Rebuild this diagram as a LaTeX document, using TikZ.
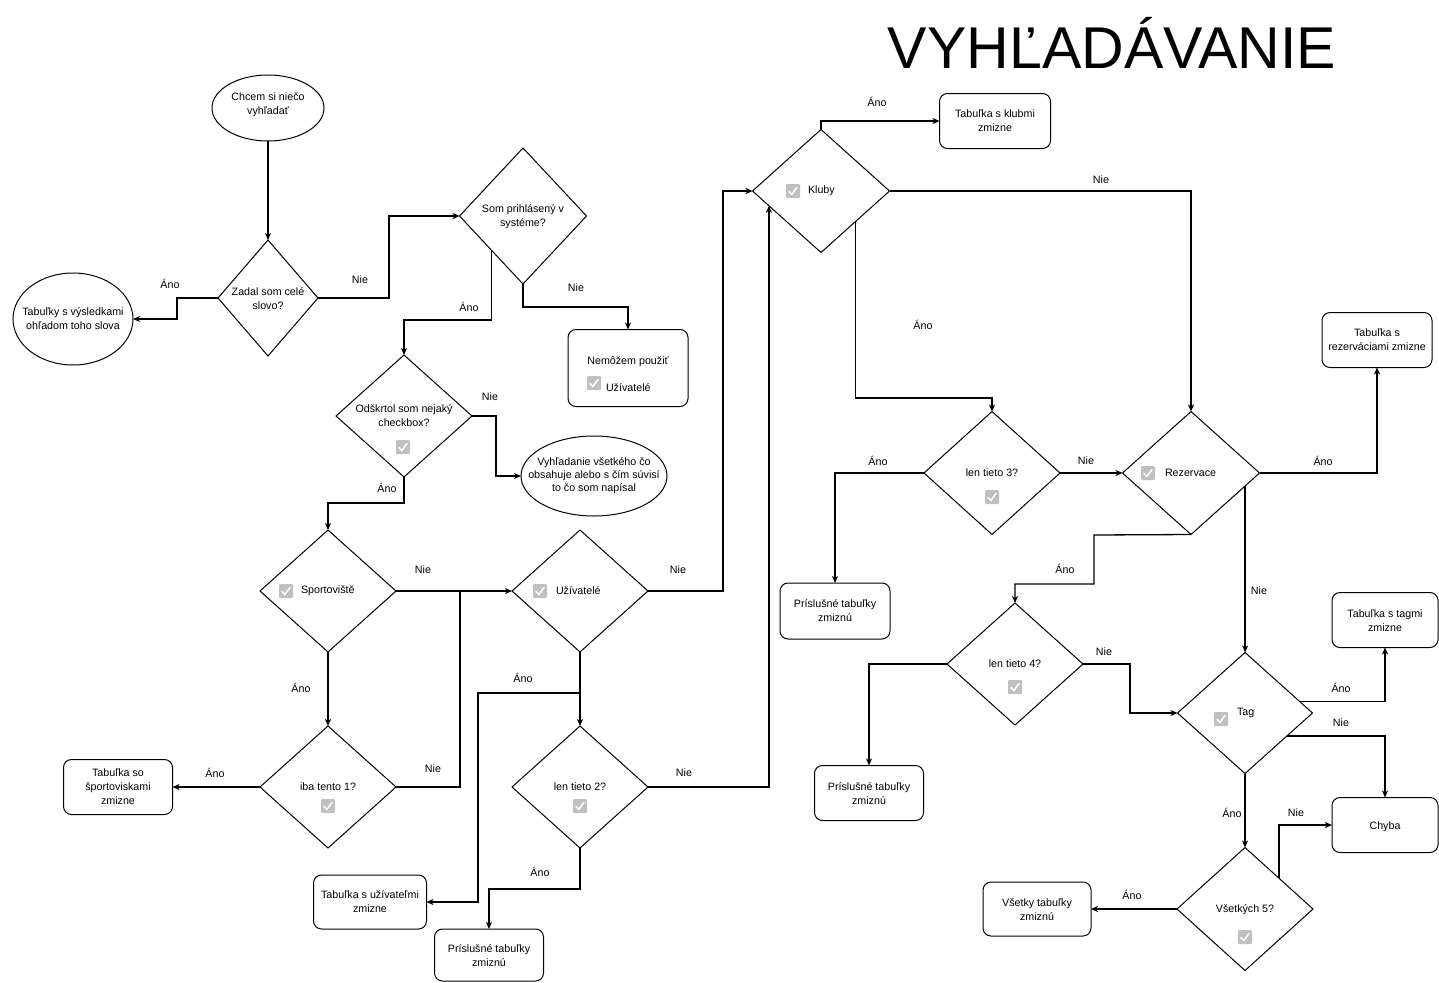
\documentclass[tikz,border=0pt]{standalone}
\usepackage{fontspec}
\setmainfont{Liberation Sans}
\usetikzlibrary{shapes.geometric,arrows.meta,calc}
\definecolor{ckgray}{RGB}{192,192,192}
\begin{document}
\begin{tikzpicture}[x=1pt,y=-1pt,
  every node/.style={inner sep=0pt, outer sep=0pt},
  base/.style={draw=black, line width=1pt},
  decision/.style={base, diamond},
  stepbox/.style={base, rectangle, rounded corners=8pt},
  oval/.style={base, ellipse},
  txt/.style={align=center, font=\fontsize{10.7}{14}\selectfont},
  lbl/.style={font=\fontsize{10.7}{14}\selectfont},
  arr/.style={line width=1.3pt, -{Stealth[length=7pt,width=6pt,inset=2pt]}},
  link/.style={line width=1.3pt},
  ckbox/.pic={
    \fill[ckgray, rounded corners=1.2pt] (-7,-7) rectangle (7,7);
    \draw[white, line width=1.5pt, line cap=round, line join=round]
      (-4,0.5) -- (-1.2,3.5) -- (4,-3.5);
  }
]
\fill[white] (0,0) rectangle (1439,982);
\useasboundingbox (0,0) rectangle (1439,982);

% title
\node[font=\fontsize{59}{60}\selectfont] (title) at (1112,43) {VYHĽADÁVANIE};

% ---- shapes ----
\node[oval, minimum width=112pt, minimum height=66pt] (start) at (268,108) {};
\node[decision, minimum width=100pt, minimum height=116pt] (zadal) at (268,298) {};
\node[oval, minimum width=120pt, minimum height=92pt] (tabvys) at (73,319) {};
\node[decision, minimum width=127pt, minimum height=136pt] (som) at (523,216) {};
\node[stepbox, minimum width=120pt, minimum height=77pt] (nemozem) at (628,368) {};
\node[decision, minimum width=136pt, minimum height=122pt] (odsk) at (404,416) {};
\node[oval, minimum width=146pt, minimum height=80pt] (vyhl) at (594,476) {};
\node[decision, minimum width=136pt, minimum height=122pt] (sport) at (328,591) {};
\node[decision, minimum width=136pt, minimum height=122pt] (iba) at (328,787) {};
\node[stepbox, minimum width=109pt, minimum height=55pt] (tabsport) at (118,787) {};
\node[decision, minimum width=136pt, minimum height=122pt] (uziv) at (580,591) {};
\node[decision, minimum width=136pt, minimum height=122pt] (len2) at (580,787) {};
\node[stepbox, minimum width=113pt, minimum height=54pt] (tabuziv) at (370,902) {};
\node[stepbox, minimum width=109pt, minimum height=52pt] (pris1) at (489,955) {};
\node[decision, minimum width=137pt, minimum height=123pt] (kluby) at (821,191) {};
\node[stepbox, minimum width=111pt, minimum height=55pt] (tabklub) at (995,121) {};
\node[decision, minimum width=136pt, minimum height=123pt] (len3) at (992,473) {};
\node[stepbox, minimum width=110pt, minimum height=56pt] (pris2) at (835,611) {};
\node[decision, minimum width=137pt, minimum height=123pt] (rez) at (1191,473) {};
\node[stepbox, minimum width=110pt, minimum height=55pt] (tabrez) at (1377,340) {};
\node[decision, minimum width=136pt, minimum height=122pt] (len4) at (1015,664) {};
\node[stepbox, minimum width=109pt, minimum height=55pt] (pris3) at (869,793) {};
\node[decision, minimum width=135pt, minimum height=121pt] (tag) at (1245,713) {};
\node[stepbox, minimum width=106pt, minimum height=55pt] (tabtag) at (1385,620) {};
\node[stepbox, minimum width=106pt, minimum height=55pt] (chyba) at (1385,825) {};
\node[decision, minimum width=136pt, minimum height=123pt] (vset) at (1245,909) {};
\node[stepbox, minimum width=108pt, minimum height=54pt] (vsetky) at (1037,909) {};

% ---- texts inside shapes ----
\node[txt] (tStart) at ($(start)+(0,-3)$) {Chcem si niečo\\vyhľadať};
\node[txt] (tZadal) at ($(zadal)+(0,1)$) {Zadal som celé\\slovo?};
\node[txt] (tTabvys) at (tabvys) {Tabuľky s výsledkami\\ohľadom toho slova};
\node[txt] (tSom) at ($(som)+(0,1)$) {Som prihlásený v\\systéme?};
\node[txt] (tNem) at (628,362) {Nemôžem použiť};
\pic (ckNem) at (594,383) {ckbox};
\node[txt, anchor=west] (tNemU) at (606,388) {Užívatelé};
\node[txt] (tOdsk) at (odsk) {Odškrtol som nejaký\\checkbox?};
\pic (ckOdsk) at (403,447) {ckbox};
\node[txt, font=\fontsize{10.7}{13}\selectfont] (tVyhl) at (vyhl) {Vyhľadanie všetkého čo\\obsahuje alebo s čím súvisí\\to čo som napísal};
\pic (ckSport) at (286,591) {ckbox};
\node[txt, anchor=west] (tSport) at (301,591) {Sportoviště};
\node[txt] (tIba) at (iba) {iba tento 1?};
\pic (ckIba) at (328,806) {ckbox};
\node[txt] (tTabsport) at (tabsport) {Tabuľka so\\športoviskami\\zmizne};
\pic (ckUziv) at (540,591) {ckbox};
\node[txt, anchor=west] (tUziv) at (556,591) {Užívatelé};
\node[txt] (tLen2) at (len2) {len tieto 2?};
\pic (ckLen2) at (580,806) {ckbox};
\node[txt] (tTabuziv) at (tabuziv) {Tabuľka s užívateľmi\\zmizne};
\node[txt] (tPris1) at ($(pris1)+(0,1)$) {Príslušné tabuľky\\zmiznú};
\pic (ckKluby) at (793,191) {ckbox};
\node[txt, anchor=west] (tKluby) at (808,191) {Kluby};
\node[txt] (tTabklub) at (tabklub) {Tabuľka s klubmi\\zmizne};
\node[txt] (tLen3) at (len3) {len tieto 3?};
\pic (ckLen3) at (992,497) {ckbox};
\node[txt] (tPris2) at (pris2) {Príslušné tabuľky\\zmiznú};
\pic (ckRez) at (1148,473) {ckbox};
\node[txt, anchor=west] (tRez) at (1165,473) {Rezervace};
\node[txt] (tTabrez) at (tabrez) {Tabuľka s\\rezerváciami zmizne};
\node[txt] (tLen4) at (len4) {len tieto 4?};
\pic (ckLen4) at (1015,687) {ckbox};
\node[txt] (tPris3) at ($(pris3)+(0,1)$) {Príslušné tabuľky\\zmiznú};
\pic (ckTag) at (1221,719) {ckbox};
\node[txt, anchor=west] (tTag) at (1237,713) {Tag};
\node[txt] (tTabtag) at ($(tabtag)+(0,1)$) {Tabuľka s tagmi\\zmizne};
\node[txt] (tChyba) at ($(chyba)+(0,2)$) {Chyba};
\node[txt] (tVset) at ($(vset)+(0,1)$) {Všetkých 5?};
\pic (ckVset) at (1245,937) {ckbox};
\node[txt] (tVsetky) at ($(vsetky)+(0,1)$) {Všetky tabuľky\\zmiznú};

% ---- exit points on diamond sides ----
\coordinate (somSW) at ($(som.south)!0.5!(som.west)$);
\coordinate (klSE) at ($(kluby.east)!0.5!(kluby.south)$);
\coordinate (klIn) at ($(kluby.west)!0.24!(kluby.south)$);
\coordinate (rzOut) at ($(rez.east)!0.21!(rez.south)$);
\coordinate (tgNE) at ($(tag.east)!0.185!(tag.north)$);
\coordinate (tgSE) at ($(tag.east)!0.378!(tag.south)$);
\coordinate (vsNE) at ($(vset.east)!0.5!(vset.north)$);

% ---- connectors ----
\draw[arr] (start.south) -- (zadal.north);
\draw[arr] (zadal.west) -- (177,298) |- (tabvys.east);
\draw[arr] (zadal.east) -- (389,298) |- (som.west);
\draw[arr] (somSW) |- (404,320) -- (odsk.north);
\draw[arr] (som.south) -- (523,307) -| (nemozem.north);
\draw[arr] (odsk.east) -- (496,416) |- (vyhl.west);
\draw[arr] (odsk.south) -- (404,503) -| (sport.north);
\draw[arr] (sport.east) -- (uziv.west);
\draw[arr] (sport.south) -- (iba.north);
\draw[arr] (iba.west) -- (tabsport.east);
\draw[link] (iba.east) -| (460,591);
\draw[arr] (uziv.east) -- (723,591) |- (kluby.west);
\draw[arr] (uziv.south) -- (len2.north);
\draw[arr] (uziv.south) |- (478,693) |- (tabuziv.east);
\draw[arr] (len2.east) -| (klIn);
\draw[arr] (len2.south) -- (580,889) -| (pris1.north);
\draw[arr] (kluby.north) |- (tabklub.west);
\draw[arr] (kluby.east) -| (rez.north);
\draw[arr] (klSE) |- (992,398) -- (len3.north);
\draw[arr] (len3.west) -| (pris2.north);
\draw[arr] (len3.east) -- (rez.west);
\draw[arr] (rez.east) -| (tabrez.south);
\draw[arr] (rez.south) -- (1094,535) |- (1015,584) -- (len4.north);
\draw[arr] (rzOut) -- (rzOut |- tag.north);
\draw[arr] (len4.east) -- (1130,664) |- (tag.west);
\draw[arr] (len4.west) -| (pris3.north);
\draw[arr] (tgNE) -| (tabtag.south);
\draw[arr] (tgSE) -| (chyba.north);
\draw[arr] (tag.south) -- (vset.north);
\draw[arr] (vsNE) |- (chyba.west);
\draw[arr] (vset.west) -- (vsetky.east);

% ---- connector labels ----
\node[lbl] (l1) at (170,284) {Áno};
\node[lbl] (l2) at (360,280) {Nie};
\node[lbl] (l3) at (469,307) {Áno};
\node[lbl] (l4) at (576,288) {Nie};
\node[lbl] (l5) at (490,397) {Nie};
\node[lbl] (l6) at (387,488) {Áno};
\node[lbl] (l7) at (423,570) {Nie};
\node[lbl] (l8) at (301,688) {Áno};
\node[lbl] (l9) at (433,769) {Nie};
\node[lbl] (l10) at (215,773) {Áno};
\node[lbl] (l11) at (678,570) {Nie};
\node[lbl] (l12) at (523,678) {Áno};
\node[lbl] (l13) at (684,773) {Nie};
\node[lbl] (l14) at (540,872) {Áno};
\node[lbl] (l15) at (877,102) {Áno};
\node[lbl] (l16) at (1101,180) {Nie};
\node[lbl] (l17) at (923,325) {Áno};
\node[lbl] (l18) at (878,461) {Áno};
\node[lbl] (l19) at (1086,461) {Nie};
\node[lbl] (l20) at (1323,461) {Áno};
\node[lbl] (l21) at (1065,569) {Áno};
\node[lbl] (l22) at (1259,591) {Nie};
\node[lbl] (l23) at (1104,652) {Nie};
\node[lbl] (l24) at (1341,688) {Áno};
\node[lbl] (l25) at (1341,723) {Nie};
\node[lbl] (l26) at (1232,813) {Áno};
\node[lbl] (l27) at (1296,813) {Nie};
\node[lbl] (l28) at (1132,895) {Áno};
\end{tikzpicture}
\end{document}
